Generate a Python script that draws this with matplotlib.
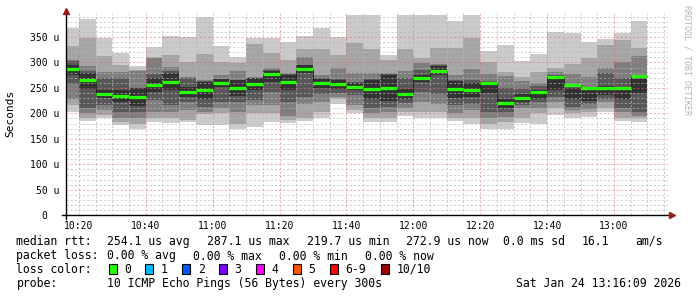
import matplotlib
matplotlib.use("Agg")
import matplotlib.pyplot as plt
import matplotlib.ticker as mticker
from matplotlib.patches import Rectangle

# ── data: 5 min slots, 10 pings per slot, sorted (microseconds)
slot_start = ["10:15", "10:20", "10:25", "10:30", "10:35", "10:40", "10:45",
              "10:50", "10:55", "11:00", "11:05", "11:10", "11:15", "11:20",
              "11:25", "11:30", "11:35", "11:40", "11:45", "11:50", "11:55",
              "12:00", "12:05", "12:10", "12:15", "12:20", "12:25", "12:30",
              "12:35", "12:40", "12:45", "12:50", "12:55", "13:00", "13:05"]

ping1 = [203, 185, 190, 178, 170, 183, 181, 183, 177, 177, 170, 174, 183, 181, 185, 191, 219, 200,
         183, 183, 195, 190, 191, 185, 180, 169, 169, 182, 180, 197, 191, 193, 203, 185, 183]
ping2 = [217, 191, 197, 183, 180, 191, 191, 188, 198, 200, 180, 200, 200, 187, 191, 203, 229, 206,
         190, 191, 203, 203, 203, 190, 190, 180, 183, 190, 200, 210, 200, 203, 210, 191, 191]
ping3 = [228, 200, 206, 191, 191, 203, 203, 206, 203, 210, 203, 216, 216, 195, 219, 223, 233, 216,
         200, 203, 210, 223, 219, 200, 206, 190, 193, 210, 210, 223, 206, 208, 223, 203, 195]
ping4 = [258, 210, 216, 203, 203, 226, 216, 222, 212, 222, 223, 226, 242, 223, 233, 239, 240, 236,
         210, 212, 220, 242, 239, 216, 219, 203, 203, 216, 223, 233, 213, 219, 229, 210, 203]
ping5 = [275, 248, 230, 222, 215, 242, 245, 232, 228, 251, 235, 245, 262, 245, 280, 250, 248, 245,
         228, 225, 228, 262, 275, 230, 232, 240, 210, 222, 229, 245, 228, 225, 236, 228, 240]
ping6 = [295, 280, 246, 246, 249, 270, 279, 252, 262, 268, 265, 269, 284, 275, 294, 268, 266, 259,
         266, 275, 248, 276, 293, 264, 260, 262, 228, 238, 245, 268, 250, 245, 253, 250, 268]
ping7 = [302, 283, 270, 269, 250, 278, 283, 270, 264, 268, 266, 270, 285, 277, 295, 270, 268, 262,
         268, 277, 269, 285, 294, 266, 265, 264, 249, 248, 254, 275, 252, 246, 280, 269, 275]
ping8 = [305, 293, 282, 282, 283, 308, 291, 272, 265, 275, 283, 272, 290, 280, 311, 275, 290, 280,
         280, 280, 283, 298, 296, 276, 288, 278, 274, 263, 259, 282, 278, 272, 290, 301, 313]
ping9 = [333, 348, 313, 295, 285, 311, 314, 301, 316, 301, 298, 337, 318, 305, 326, 326, 314, 339,
         326, 305, 326, 309, 328, 328, 347, 301, 282, 272, 282, 290, 296, 308, 334, 344, 328]
ping10 = [367, 386, 347, 318, 293, 331, 352, 349, 389, 333, 310, 347, 347, 341, 352, 367, 350, 393,
          393, 314, 393, 393, 393, 381, 393, 322, 334, 303, 316, 359, 357, 341, 346, 357, 381]
median = [287, 264.7, 238, 234, 232, 256, 262, 242, 245, 259.5, 250, 257, 277, 261.5, 287, 259,
          257, 252, 247, 250, 238, 269, 284, 247, 246, 259, 219.7, 229.5, 242, 271, 256, 249,
          249, 249, 272.9]

time_labels = ["10:20", "10:40", "11:00", "11:20", "11:40", "12:00", "12:20", "12:40", "13:00"]

loss_labels = ["0", "1", "2", "3", "4", "5", "6-9", "10/10"]
loss_colors = ["#26ff00", "#00b8ff", "#0059ff", "#7e00ff", "#ff00ff", "#ff5500", "#ff0000", "#a10000"]

W, H = 697, 297
MONO = "DejaVu Sans Mono"
plt.rcParams["font.family"] = MONO
plt.rcParams["lines.scale_dashes"] = False


def to_min(hhmm):
    h, m = hhmm.split(":")
    return int(h) * 60 + int(m)


t_start = 10 * 60 + 16 + 9 / 60   # 10:16:09
t_end = t_start + 180

fig = plt.figure(figsize=(W / 100, H / 100), dpi=100)
fig.patch.set_facecolor("white")
ax_top, ax_bot = 13.0, 215.3
ax = fig.add_axes([66 / W, 1 - ax_bot / H, 602 / W, (ax_bot - ax_top) / H])
ax.set_xlim(t_start, t_end)
ax.set_ylim(0, 397)

# ── smoke: nested layers, darker towards the middle
pings = [ping1, ping2, ping3, ping4, ping5, ping6, ping7, ping8, ping9, ping10]
shades = ["#cacaca", "#a4a4a4", "#7e7e7e", "#585858", "#323232"]
starts = [to_min(s) for s in slot_start]
for i in range(5):
    lo, hi = pings[i], pings[9 - i]
    ax.bar(starts, [h - l for l, h in zip(lo, hi)], bottom=lo, width=5, align="edge",
           color=shades[i], linewidth=0, zorder=1)

# median: thin dark step + green bars
step_x, step_y = [], []
for s, m in zip(starts, median):
    step_x += [s, s + 5]
    step_y += [m, m]
ax.plot(step_x, step_y, color="#1a1a1a", lw=0.6, zorder=3)
ax.hlines(median, starts, [s + 5 for s in starts], color=loss_colors[0], lw=2.3, zorder=4)

# ── grid
ax.xaxis.set_major_locator(mticker.FixedLocator([to_min(t) for t in time_labels]))
ax.xaxis.set_major_formatter(mticker.FixedFormatter(time_labels))
ax.xaxis.set_minor_locator(mticker.MultipleLocator(5))
ax.yaxis.set_major_locator(mticker.MultipleLocator(50))
ax.yaxis.set_minor_locator(mticker.MultipleLocator(10))
ax.yaxis.set_major_formatter(mticker.FuncFormatter(lambda v, p: "0  " if v == 0 else f"{v:.0f} u"))
ax.set_axisbelow(False)
ax.grid(which="minor", color="#b8b8b8", lw=0.7, ls=(0, (1.5, 1.5)), alpha=0.7)
ax.grid(which="major", color="#e07070", lw=0.7, ls=(0, (1.5, 1.5)), alpha=0.6)

ax.tick_params(axis="both", which="both", labelsize=7, length=0)
ax.tick_params(axis="x", pad=4.2)
ax.tick_params(axis="y", pad=4.8)
for sp in ax.spines.values():
    sp.set_visible(False)
ax.set_facecolor("white")

# axis lines with arrows
ax.plot([-4 / 602, 1.004], [0, 0], color="black", lw=1, transform=ax.transAxes, clip_on=False, zorder=5)
ax.plot([0, 0], [-4 / 202.3, 1.01], color="black", lw=1, transform=ax.transAxes, clip_on=False, zorder=5)
ax.plot([1.006], [0], marker=">", ms=4, color="#9b1c1c", transform=ax.transAxes, clip_on=False, zorder=6)
ax.plot([0], [1.012], marker="^", ms=4, color="#9b1c1c", transform=ax.transAxes, clip_on=False, zorder=6)


def px(x, y):
    return x / W, 1 - y / H


fig.text(*px(10.5, 113.7), "Seconds", rotation=90, ha="center", va="center", fontsize=8)
fig.text(*px(687, 60), "RRDTOOL / TOBI OETIKER", rotation=270, ha="center", va="center",
         fontsize=6, color="#b4b4b4")

# ── legend lines
fs = 8.3
rows = [241.3, 256, 269.2, 283.7]
line1 = [(16.5, "median rtt:"), (107.3, "254.1 us avg"), (207.3, "287.1 us max"),
         (306.7, "219.7 us min"), (406.3, "272.9 us now"), (503, "0.0 ms sd"),
         (582, "16.1"), (635, "am/s")]
line2 = [(16.5, "packet loss:"), (107.3, "0.00 % avg"), (193.3, "0.00 % max"),
         (279, "0.00 % min"), (365, "0.00 % now")]
for x, s in line1:
    fig.text(*px(x, rows[0]), s, fontsize=fs, va="center")
for x, s in line2:
    fig.text(*px(x, rows[1]), s, fontsize=fs, va="center")

fig.text(*px(16.5, rows[2]), "loss color:", fontsize=fs, va="center")
bx = 108.5
for lab, col in zip(loss_labels, loss_colors):
    fig.patches.append(Rectangle(px(bx, rows[2] + 4.5), 8 / W, 9.5 / H, transform=fig.transFigure,
                                 facecolor=col, edgecolor="black", lw=0.8))
    fig.text(*px(bx + 15.5, rows[2]), lab, fontsize=fs, va="center")
    bx += 15.5 + 7 * len(lab) + 14.4

fig.text(*px(16.5, rows[3]), "probe:", fontsize=fs, va="center")
fig.text(*px(107.3, rows[3]), "10 ICMP Echo Pings (56 Bytes) every 300s", fontsize=fs, va="center")
fig.text(*px(681, rows[3]), "Sat Jan 24 13:16:09 2026", fontsize=fs, va="center", ha="right")

fig.savefig("out.png", dpi=100, facecolor="white")
